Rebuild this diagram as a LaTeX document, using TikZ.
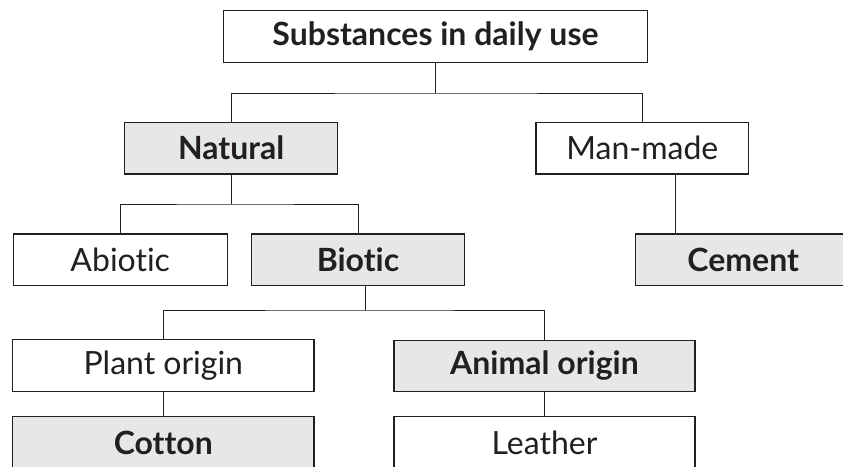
\documentclass[tikz,border=0pt]{standalone}
\usepackage{fontspec}
\setmainfont[Ligatures=NoCommon]{Lato}
\definecolor{boxgray}{HTML}{E6E7E8}
\definecolor{ink}{HTML}{231F20}
\tikzset{
  plainbox/.style={draw=ink, line width=1.1pt, fill=white, minimum height=51.5pt, inner sep=0pt, font=\fontsize{32}{35}\selectfont, text=ink},
  greybox/.style={plainbox, fill=boxgray, font=\fontsize{32}{35}\selectfont\bfseries},
  link/.style={draw=ink, line width=1pt}
}
\begin{document}
\begin{tikzpicture}[x=1pt,y=-1pt]
\useasboundingbox (0,0) rectangle (843,466);
\clip (0,0) rectangle (843,466);
\node[plainbox, font=\fontsize{32}{35}\selectfont\bfseries, minimum width=424pt] (top) at (435.5,36.4) {Substances in daily use};
\node[greybox, minimum width=213pt] (natural) at (231.2,148.2) {Natural};
\node[plainbox, minimum width=212.7pt] (manmade) at (642.3,148.2) {Man-made};
\node[plainbox, minimum width=213.7pt] (abiotic) at (120.2,259.7) {Abiotic};
\node[greybox, minimum width=212.6pt] (biotic) at (358,259.7) {Biotic};
\node[greybox, minimum width=215pt] (cement) at (743.2,259.7) {Cement};
\node[plainbox, minimum width=301.3pt] (plant) at (163.3,365.3) {Plant origin};
\node[greybox, minimum width=301pt] (animal) at (544.5,365.8) {Animal origin};
\node[greybox, minimum width=301.3pt] (cotton) at (163.3,442.5) {Cotton};
\node[plainbox, minimum width=301pt] (leather) at (544.5,442.5) {Leather};
% connectors
\coordinate (j1) at (435.5,93);
\draw[link] (top.south) -- (j1);
\draw[link] (natural.north) |- (j1) -| (manmade.north);
\coordinate (j2) at (231.2,204);
\draw[link] (natural.south) -- (j2);
\draw[link] (abiotic.north) |- (j2) -| (biotic.north);
\draw[link] ([xshift=33pt]manmade.south) -- ([xshift=33pt]manmade.south |- cement.north);
\coordinate (j3) at (365,310);
\draw[link] ([xshift=7pt]biotic.south) -- (j3);
\draw[link] (plant.north) |- (j3) -| (animal.north);
\draw[link] (plant.south) -- (cotton.north);
\draw[link] (animal.south) -- (leather.north);
\end{tikzpicture}
\end{document}
